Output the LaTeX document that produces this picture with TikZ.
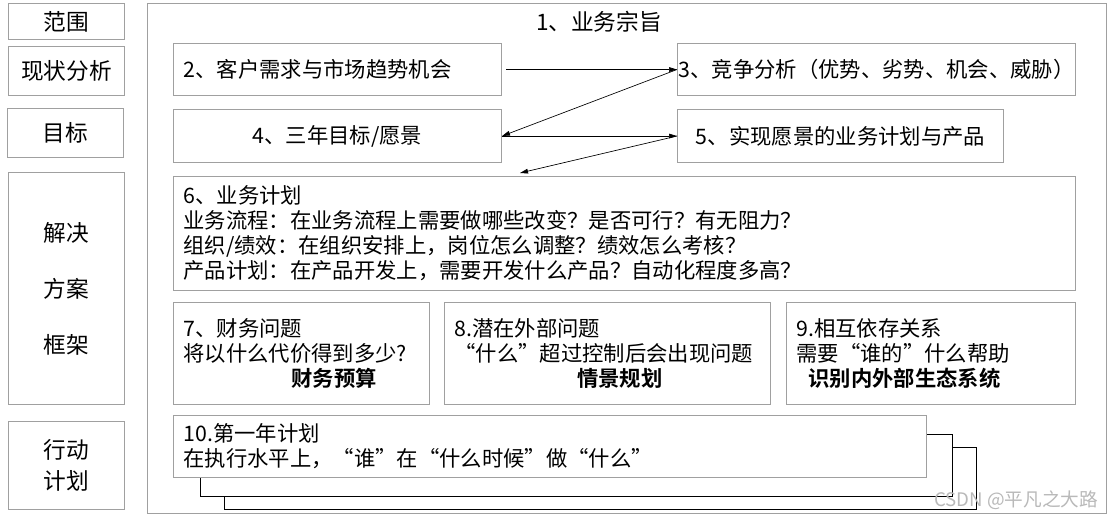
\documentclass[tikz,border=0pt]{standalone}
\usepackage{fontspec}
\setmainfont{Noto Sans CJK SC}[BoldFont={Noto Sans CJK SC Bold}]
\usetikzlibrary{arrows.meta}
\definecolor{boxgray}{RGB}{160,160,160}
\tikzset{
  area/.style args={#1/#2/#3/#4}{at={(#1,#2)}, anchor=north west,
    minimum width={(#3-#1)*0.75pt}, minimum height={(#4-#2)*0.75pt}},
  box/.style={draw=boxgray, line width=0.8pt, inner sep=0pt, fill=white},
  lbl/.style={font=\fontsize{17}{20}\selectfont, align=center},
  txt/.style={font=\fontsize{16}{19}\selectfont},
  body/.style={font=\fontsize{16}{18.75}\selectfont, align=left},
  backbox/.style={draw=black, line width=1pt, fill=white, inner sep=0pt},
  link/.style={-{Triangle[length=6pt,width=3.5pt]}, line width=0.5pt},
  wmark/.style={text=gray!55, font=\fontsize{14}{16}\selectfont},
}

\begin{document}
\begin{tikzpicture}[x=0.75pt, y=-0.75pt]
  \useasboundingbox (0,0) rectangle (1117,521);
  % left column
  \node[box, lbl, area=8/3/124/39] (scope) {范围};
  \node[box, lbl, area=8/46/124/95] (status) {现状分析};
  \node[box, lbl, font=\fontsize{17}{42}\selectfont, area=8/172/124/404] (solve) {解决\\方案\\框架};
  \node[box, lbl, area=7/108/123/157] (target) {目标};
  \node[box, lbl, font=\fontsize{17}{23.25}\selectfont, area=8/421/124/509] (action) {行动\\计划};
  % main frame
  \node[box, area=147/3/1106/513] (frame) {};
  \node[lbl] (mission) at (599,22) {1、业务宗旨};
  \node[box, txt, text width=231pt, align=left, area=173/43/501/95] (cust) {2、客户需求与市场趋势机会};
  \node[box, txt, area=677/43/1075/95] (comp) {3、竞争分析（优势、劣势、机会、威胁）};
  \node[box, txt, area=173/109/501/162] (goal) {4、三年目标/愿景};
  \node[box, txt, area=677/109/1003/162] (real) {5、实现愿景的业务计划与产品};
  \node[box, body, text width=661.5pt, area=173/176/1075/290] (plan) {6、业务计划\\
    业务流程：在业务流程上需要做哪些改变？是否可行？有无阻力？\\
    组织/绩效：在组织安排上，岗位怎么调整？绩效怎么考核？\\
    产品计划：在产品开发上，需要开发什么产品？自动化程度多高？};
  \node[box, body, text width=177pt, area=173/302/429/404] (fin) {7、财务问题\\
    将以什么代价得到多少?\\\hspace*{81pt}\textbf{财务预算}};
  \node[box, body, text width=229.5pt, area=444/302/770/404] (risk) {8.潜在外部问题\\
    “什么”超过控制后会出现问题\\\hspace*{92pt}\textbf{情景规划}};
  \node[box, body, text width=201.75pt, area=786/302/1075/404] (dep) {9.相互依存关系\\
    需要“谁的”什么帮助\\\hspace*{9pt}\textbf{识别内外部生态系统}};
  % stacked yearly plan
  \node[backbox, area=224/447/976/509] (stackc) {};
  \node[backbox, area=200/434/952/496] (stackb) {};
  \node[box, body, text width=549.75pt, area=173/415/926/477] (year) {10.第一年计划\\
    在执行水平上，“谁”在“什么时候”做“什么”};
  % arrows
  \coordinate (planin) at (520,173);
  \draw[link] ([xshift=3pt]cust.east) -- (comp.west);
  \draw[link] (comp.west) -- (goal.east);
  \draw[link] (goal.east) -- (real.west);
  \draw[link] (real.west) -- (planin);
  \node[wmark, anchor=east] (wm) at (1103,500) {CSDN @平凡之大路};
\end{tikzpicture}
\end{document}
